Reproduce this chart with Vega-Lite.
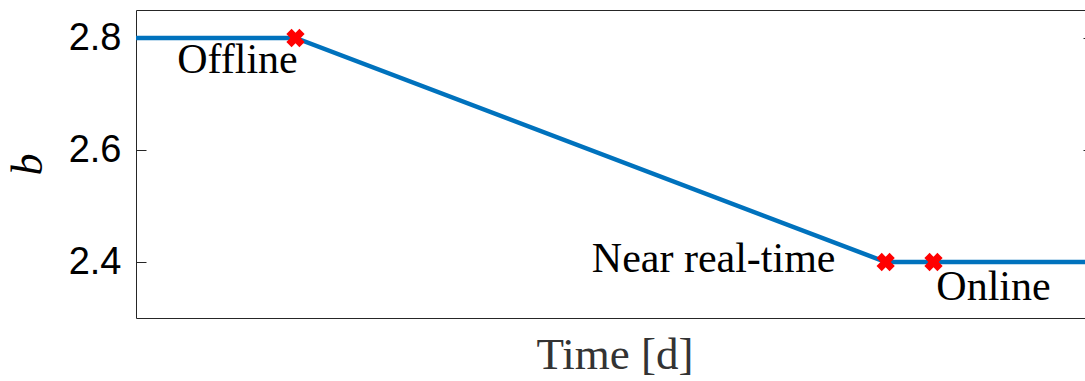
{
  "$schema": "https://vega.github.io/schema/vega-lite/v6.json",
  "width": 957,
  "height": 308,
  "autosize": {"type": "none"},
  "padding": {"left": 136, "top": 10, "right": 0, "bottom": 63},
  "background": "white",
  "config": {
    "view": {"stroke": "#262626", "strokeWidth": 1},
    "axis": {"grid": false, "domain": false}
  },
  "datasets": {
    "curve": [
      {"t": 0, "b": 2.8},
      {"t": 1, "b": 2.8},
      {"t": 4.7, "b": 2.4},
      {"t": 5, "b": 2.4},
      {"t": 6, "b": 2.4}
    ],
    "stages": [
      {"t": 1, "b": 2.8, "stage": "Offline"},
      {"t": 4.7, "b": 2.4, "stage": "Near real-time"},
      {"t": 5, "b": 2.4, "stage": "Online"}
    ]
  },
  "resolve": {"axis": {"y": "independent"}},
  "layer": [
    {
      "data": {"name": "curve"},
      "mark": {"type": "line", "color": "#0072BD", "strokeWidth": 4.5, "clip": true},
      "encoding": {
        "x": {
          "field": "t", "type": "quantitative",
          "scale": {"domain": [0, 6], "nice": false, "zero": false},
          "axis": {
            "title": "Time [d]", "labels": false, "ticks": false,
            "titleFont": "Liberation Serif", "titleFontSize": 45, "titleFontWeight": "normal",
            "titleColor": "#333333", "titlePadding": 14
          }
        },
        "y": {
          "field": "b", "type": "quantitative",
          "scale": {"domain": [2.3, 2.85], "nice": false, "zero": false},
          "axis": {
            "title": "b", "values": [2.4, 2.6, 2.8], "format": ".1f",
            "tickSize": -10, "tickColor": "#262626", "labelPadding": 25,
            "labelFont": "Liberation Sans", "labelFontSize": 38, "labelColor": "black",
            "titleFont": "Liberation Serif", "titleFontStyle": "italic", "titleFontSize": 44,
            "titleFontWeight": "normal", "titleColor": "black", "titlePadding": 18
          }
        }
      }
    },
    {
      "data": {"name": "stages"},
      "mark": {"type": "point", "shape": "cross", "angle": 45, "filled": true, "color": "#FF0000", "size": 340, "opacity": 1},
      "encoding": {
        "x": {"field": "t", "type": "quantitative"},
        "y": {
          "field": "b", "type": "quantitative",
          "axis": {
            "orient": "right", "title": null, "labels": false,
            "values": [2.4, 2.6, 2.8], "tickSize": -10, "tickColor": "#262626"
          }
        }
      }
    },
    {
      "data": {"name": "stages"},
      "transform": [{"filter": "datum.stage === 'Offline'"}],
      "mark": {"type": "text", "font": "Liberation Serif", "fontSize": 42, "color": "black", "align": "center", "baseline": "alphabetic", "dx": -58, "dy": 35},
      "encoding": {
        "x": {"field": "t", "type": "quantitative"},
        "y": {"field": "b", "type": "quantitative", "axis": null},
        "text": {"field": "stage"}
      }
    },
    {
      "data": {"name": "stages"},
      "transform": [{"filter": "datum.stage === 'Near real-time'"}],
      "mark": {"type": "text", "font": "Liberation Serif", "fontSize": 42, "color": "black", "align": "center", "baseline": "alphabetic", "dx": -172, "dy": 10},
      "encoding": {
        "x": {"field": "t", "type": "quantitative"},
        "y": {"field": "b", "type": "quantitative", "axis": null},
        "text": {"field": "stage"}
      }
    },
    {
      "data": {"name": "stages"},
      "transform": [{"filter": "datum.stage === 'Online'"}],
      "mark": {"type": "text", "font": "Liberation Serif", "fontSize": 42, "color": "black", "align": "center", "baseline": "alphabetic", "dx": 60, "dy": 38},
      "encoding": {
        "x": {"field": "t", "type": "quantitative"},
        "y": {"field": "b", "type": "quantitative", "axis": null},
        "text": {"field": "stage"}
      }
    }
  ]
}
